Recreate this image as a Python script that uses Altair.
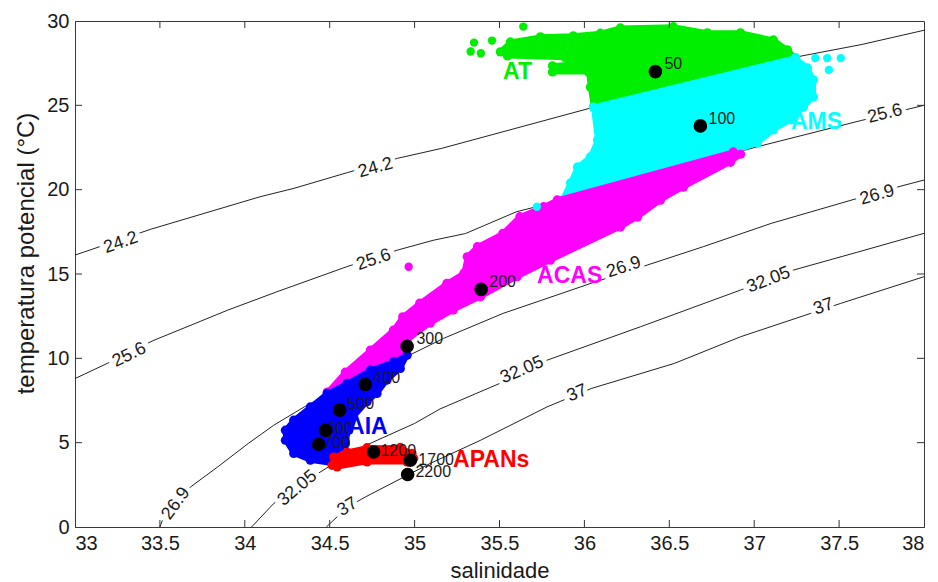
import altair as alt
import pandas as pd

# ---------------------------------------------------------------- axes
S_DOMAIN = [33, 38]
T_DOMAIN = [0, 30]
X_TICKS = [33, 33.5, 34, 34.5, 35, 35.5, 36, 36.5, 37, 37.5, 38]
Y_TICKS = [0, 5, 10, 15, 20, 25, 30]

# ---------------------------------------------------------------- isopycnals (salinity, potential temperature)
ISO_242_S = [33.0, 33.445, 34.09, 34.29, 34.60, 34.90, 35.16, 36.04, 37.24, 37.63, 38.0]
ISO_242_T = [16.12, 17.65, 19.58, 20.08, 21.0, 21.86, 22.45, 24.85, 27.85, 28.6, 29.45]

ISO_256_S = [33.0, 33.19, 33.46, 33.90, 34.19, 34.60, 34.90, 35.11, 35.30, 35.60, 35.80, 37.02, 37.63, 38.0]
ISO_256_T = [8.8, 9.70, 11.05, 12.86, 13.95, 15.43, 16.42, 17.0, 17.4, 18.69, 19.2, 22.55, 24.1, 25.0]

ISO_269_S = [33.50, 33.53, 33.68, 33.84, 34.02, 34.17, 34.35, 35.17, 35.52, 36.04, 36.37, 36.70, 37.10, 37.61, 37.86, 38.0]
ISO_269_T = [0.0, 0.8, 2.37, 3.56, 4.95, 6.03, 7.12, 11.18, 12.66, 14.45, 15.53, 16.62, 18.0, 19.49, 20.2, 20.57]

ISO_3205_S = [34.04, 34.17, 34.43, 34.66, 35.0, 35.15, 35.51, 35.78, 36.33, 36.92, 37.23, 37.61, 38.0]
ISO_3205_T = [0.0, 1.39, 3.17, 4.6, 6.14, 7.0, 8.55, 9.89, 11.87, 14.05, 15.23, 16.3, 17.41]

ISO_37_S = [34.48, 34.606, 34.71, 35.09, 35.39, 35.78, 36.04, 36.53, 36.92, 37.51, 38.0]
ISO_37_T = [0.0, 1.19, 1.78, 3.76, 5.15, 7.12, 8.21, 9.7, 11.28, 13.26, 14.84]

ISO_LEVELS = ["24.2", "25.6", "26.9", "32.05", "37"]

# in-line contour labels
CL_TEXT = ["24.2", "24.2", "25.6", "25.6", "25.6", "26.9", "26.9", "26.9",
           "32.05", "32.05", "32.05", "37", "37", "37"]
CL_S = [33.27, 34.77, 33.32, 34.76, 37.77, 33.595, 36.232, 37.724,
        34.31, 35.633, 37.085, 34.606, 35.957, 37.409]
CL_T = [16.85, 21.29, 10.19, 15.83, 24.49, 1.39, 15.39, 19.67,
        2.3, 9.30, 14.64, 1.19, 7.92, 13.06]
CL_ANGLE = [341, 344, 334, 341.5, 346, 306, 342, 344,
            320, 337, 339, 328, 338, 341]

# ---------------------------------------------------------------- water-mass envelopes
AT_S = [35.505, 35.564, 35.741, 35.935, 36.094, 36.212, 36.524, 36.724, 36.919, 37.113,
        37.196, 37.243, 36.053, 36.035, 36.024, 35.812, 35.812, 35.947, 35.888, 35.547]
AT_T = [28.17, 28.76, 29.06, 29.12, 29.28, 29.59, 29.66, 29.30, 29.30, 28.88,
        28.29, 27.82, 24.90, 26.09, 26.98, 26.98, 27.34, 27.46, 27.82, 27.93]

AMS_S = [36.053, 37.243, 37.314, 37.349, 37.349, 37.290, 37.214, 37.113, 37.019, 36.877,
         35.935, 35.869, 35.918, 35.959, 36.035, 36.077]
AMS_T = [24.90, 27.82, 27.22, 26.51, 25.50, 24.90, 24.13, 23.54, 22.77, 22.24,
         19.56, 19.38, 20.40, 21.35, 21.94, 22.95]

ACAS_S = [34.486, 34.592, 34.740, 34.875, 34.93, 35.03, 35.19, 35.29, 35.31, 35.37,
          35.52, 35.62, 35.76, 35.84, 36.877, 36.92, 36.86, 36.583, 36.448, 36.312,
          36.212, 35.80, 35.604, 35.388, 35.228, 35.093, 34.956, 34.90, 34.55]
ACAS_T = [8.00, 9.18, 10.49, 11.67, 12.46, 13.27, 14.44, 15.05, 16.02, 16.62,
          17.41, 18.40, 18.99, 19.39, 22.24, 22.10, 21.62, 20.15, 19.38, 18.37,
          17.78, 15.82, 14.84, 13.65, 12.86, 12.09, 11.08, 9.8, 7.5]

AIA_S = [34.956, 34.916, 34.838, 34.779, 34.720, 34.641, 34.612, 34.592, 34.563, 34.514,
         34.386, 34.288, 34.239, 34.239, 34.288, 34.386, 34.485, 34.602, 34.740, 34.877]
AIA_T = [10.19, 9.40, 8.71, 7.92, 7.42, 6.53, 5.74, 4.95, 4.75, 3.76,
         3.96, 4.36, 5.15, 5.74, 6.33, 7.12, 7.92, 8.51, 9.30, 9.79]

APAN_S = [34.524, 34.602, 34.720, 34.916, 34.985, 34.995, 34.956, 34.720, 34.544, 34.514]
APAN_T = [4.15, 4.45, 4.70, 4.72, 4.36, 4.06, 3.86, 3.86, 3.56, 3.66]

# isolated observations outside the envelopes
LOOSE_S = [35.33, 35.35, 35.456, 35.39, 35.64, 37.36, 37.43, 37.51, 37.44, 35.72, 34.965]
LOOSE_T = [28.19, 28.72, 28.84, 28.09, 29.67, 27.8, 27.8, 27.8, 27.1, 18.99, 15.43]
LOOSE_MASS = ["AT", "AT", "AT", "AT", "AT", "AMS", "AMS", "AMS", "AMS", "AMS", "ACAS"]

MASS_NAMES = ["AT", "AMS", "ACAS", "AIA", "APANs"]
MASS_COLORS = ["#00ee00", "#00ffff", "#ff00ff", "#0000ff", "#ff0000"]
MASS_LABEL_S = [35.606, 37.367, 35.913, 34.725, 35.451]
MASS_LABEL_T = [26.99, 24.02, 14.90, 5.93, 3.96]

# ---------------------------------------------------------------- mean profile by depth (m)
DEPTH = ["50", "100", "200", "300", "400", "500", "600", "700", "1200", "1700", "2200"]
DEPTH_S = [36.418, 36.683, 35.392, 34.956, 34.710, 34.559, 34.475, 34.435, 34.759, 34.975, 34.959]
DEPTH_T = [27.0, 23.78, 14.09, 10.72, 8.45, 6.93, 5.74, 4.91, 4.45, 3.96, 3.11]
DEPTH_LABEL_S = [36.471, 36.731, 35.440, 35.011, 34.758, 34.604, 34.481, 34.464, 34.799, 35.022, 35.005]
DEPTH_LABEL_T = [27.46, 24.17, 14.52, 11.14, 8.85, 7.31, 5.80, 4.97, 4.49, 4.0, 3.25]

# ---------------------------------------------------------------- tables
iso_pairs = [(ISO_242_S, ISO_242_T), (ISO_256_S, ISO_256_T), (ISO_269_S, ISO_269_T),
             (ISO_3205_S, ISO_3205_T), (ISO_37_S, ISO_37_T)]
iso_rows = []
for lev, (ss, tt) in zip(ISO_LEVELS, iso_pairs):
    for i, (s, t) in enumerate(zip(ss, tt)):
        iso_rows.append({"level": lev, "i": i, "S": s, "T": t})
iso_df = pd.DataFrame(iso_rows)

cl_df = pd.DataFrame({"txt": CL_TEXT, "S": CL_S, "T": CL_T, "ang": CL_ANGLE})

envelopes = {
    "AT": (AT_S, AT_T),
    "AMS": (AMS_S, AMS_T),
    "ACAS": (ACAS_S, ACAS_T),
    "AIA": (AIA_S, AIA_T),
    "APANs": (APAN_S, APAN_T),
}
color_of = dict(zip(MASS_NAMES, MASS_COLORS))

loose_df = pd.DataFrame({"S": LOOSE_S, "T": LOOSE_T, "mass": LOOSE_MASS})
mass_lab_df = pd.DataFrame({"name": MASS_NAMES, "S": MASS_LABEL_S, "T": MASS_LABEL_T})
depth_df = pd.DataFrame({"S": DEPTH_S, "T": DEPTH_T})
depth_lab_df = pd.DataFrame({"txt": DEPTH, "S": DEPTH_LABEL_S, "T": DEPTH_LABEL_T})

W, H = 849, 506
FONT = "Liberation Sans"
INK = "#1a1a1a"

x_scale = alt.Scale(domain=S_DOMAIN, nice=False, zero=False)
y_scale = alt.Scale(domain=T_DOMAIN, nice=False, zero=False)
x_axis = alt.Axis(values=X_TICKS, format="~g", title="salinidade", labelPadding=6,
                  titlePadding=7, labelFontSize=20, titleFontSize=22)
y_axis = alt.Axis(values=Y_TICKS, format="d", title="temperatura potencial (°C)",
                  labelPadding=6, titlePadding=8, labelFontSize=20, titleFontSize=24,
                  titleY=232)


def X():
    return alt.X("S:Q", scale=x_scale, axis=x_axis)


def Y():
    return alt.Y("T:Q", scale=y_scale, axis=y_axis)


# isopycnal lines
iso_lines = alt.Chart(iso_df).mark_line(color="#222222", strokeWidth=1).encode(
    x=X(), y=Y(), detail="level:N", order="i:Q"
)
# white halo opens a gap in the line under each label
cl_halo = alt.Chart(cl_df).mark_text(
    font=FONT, fontSize=18, fill="white", stroke="white", strokeWidth=9
).encode(x=X(), y=Y(), text="txt:N", angle=alt.Angle("ang:Q", scale=None))
cl_text = alt.Chart(cl_df).mark_text(font=FONT, fontSize=18, color=INK).encode(
    x=X(), y=Y(), text="txt:N", angle=alt.Angle("ang:Q", scale=None)
)

# filled water-mass envelopes, with dots on the outline for a scattered edge
env_layers = []
for name in MASS_NAMES:
    ss, tt = envelopes[name]
    d = pd.DataFrame({"S": ss, "T": tt, "i": list(range(len(ss)))})
    env_layers.append(
        alt.Chart(d).mark_line(
            fill=color_of[name], stroke=color_of[name], strokeWidth=5,
            strokeJoin="round", interpolate="linear-closed"
        ).encode(x=X(), y=Y(), order="i:Q")
    )
    env_layers.append(
        alt.Chart(d).mark_circle(size=85, opacity=1, color=color_of[name]).encode(x=X(), y=Y())
    )

loose = alt.Chart(loose_df).mark_circle(size=70, opacity=1).encode(
    x=X(), y=Y(),
    color=alt.Color("mass:N", scale=alt.Scale(domain=MASS_NAMES, range=MASS_COLORS), legend=None),
)

depth_text = alt.Chart(depth_lab_df).mark_text(
    font=FONT, fontSize=16, color=INK, align="left", baseline="middle"
).encode(x=X(), y=Y(), text="txt:N")

depth_dots = alt.Chart(depth_df).mark_circle(size=185, color="black", opacity=1).encode(
    x=X(), y=Y()
)

mass_text = alt.Chart(mass_lab_df).mark_text(
    font=FONT, fontSize=23, fontWeight="bold", align="center", baseline="middle"
).encode(
    x=X(), y=Y(), text="name:N",
    color=alt.Color("name:N", scale=alt.Scale(domain=MASS_NAMES, range=MASS_COLORS), legend=None),
)

# inward tick marks on all four sides
xt = pd.DataFrame({"S": X_TICKS[1:-1]})
yt = pd.DataFrame({"T": Y_TICKS[1:-1]})
TICK = 7
tick_bottom = alt.Chart(xt).mark_rule(color="#333333").encode(x=X(), y=alt.value(H), y2=alt.value(H - TICK))
tick_top = alt.Chart(xt).mark_rule(color="#333333").encode(x=X(), y=alt.value(0), y2=alt.value(TICK))
tick_left = alt.Chart(yt).mark_rule(color="#333333").encode(y=Y(), x=alt.value(0), x2=alt.value(TICK))
tick_right = alt.Chart(yt).mark_rule(color="#333333").encode(y=Y(), x=alt.value(W), x2=alt.value(W - TICK))

chart = alt.layer(
    iso_lines, cl_halo, cl_text,
    *env_layers,
    loose, depth_text, depth_dots, mass_text,
    tick_bottom, tick_top, tick_left, tick_right,
).properties(
    width=W, height=H,
    autosize=alt.AutoSizeParams(type="none"),
    padding={"left": 75, "top": 21, "right": 14, "bottom": 55},
).configure_view(
    stroke="#3a3a3a", strokeWidth=1
).configure_axis(
    grid=False, ticks=False, domainColor="#3a3a3a", labelFont=FONT, titleFont=FONT,
    labelColor=INK, titleColor=INK, titleFontWeight="normal",
)

chart.save("out.html", embed_options={"renderer": "svg", "actions": False})
